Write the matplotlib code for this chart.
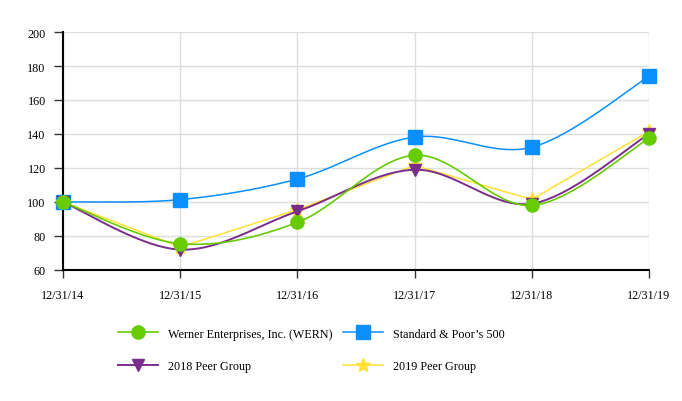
import numpy as np
import matplotlib
matplotlib.use("Agg")
import matplotlib.pyplot as plt
from matplotlib.lines import Line2D

dates = ["12/31/14", "12/31/15", "12/31/16", "12/31/17", "12/31/18", "12/31/19"]
wern = [100, 75.5, 88, 127.5, 98, 137.5]
sp500 = [100, 101.4, 113.5, 138.2, 132.2, 173.9]
peer2018 = [100, 72, 94.5, 119, 99, 140]
peer2019 = [100, 73.5, 95.5, 121.5, 101.5, 141.5]
yticks = [60, 80, 100, 120, 140, 160, 180, 200]

plt.rcParams['font.family'] = ['Liberation Serif', 'DejaVu Serif']

def smooth(xs, ys, n=40, t=0.5):
    xs = np.asarray(xs, float); ys = np.asarray(ys, float)
    P = np.column_stack([xs, ys])
    N = len(P)
    out = []
    for i in range(N - 1):
        p0 = P[i]; p3 = P[i + 1]
        pm = P[i - 1] if i > 0 else P[i]
        pp = P[i + 2] if i + 2 < N else P[i + 1]
        c1 = p0 + (p3 - pm) * t / 3
        c2 = p3 - (pp - p0) * t / 3
        s = np.linspace(0, 1, n)[:, None]
        seg = (1 - s) ** 3 * p0 + 3 * (1 - s) ** 2 * s * c1 + 3 * (1 - s) * s ** 2 * c2 + s ** 3 * p3
        out.append(seg if i == 0 else seg[1:])
    c = np.vstack(out)
    return c[:, 0], c[:, 1]

fig = plt.figure(figsize=(6.82, 4.02), dpi=100)
ax = fig.add_axes([63/682, 1-271/402, (649-63)/682, (271-33)/402])
x = np.arange(len(dates))

c_green = "#66CC00"
c_blue = "#0A8FFF"
c_purple = "#7B2D8E"
c_yellow = "#FFE033"

sx, sy = smooth(x, sp500)
ax.plot(sx, sy, color=c_blue, lw=1.1, zorder=3, clip_on=False)
ax.plot(x, sp500, ls='none', marker='s', ms=10, color=c_blue, zorder=3, clip_on=False)

ax.plot(x, peer2019, color=c_yellow, lw=1.1, marker='*', ms=10, zorder=4, clip_on=False)

sx, sy = smooth(x, peer2018)
ax.plot(sx, sy, color=c_purple, lw=1.4, zorder=5, clip_on=False)
ax.plot(x, peer2018, ls='none', marker='v', ms=9, color=c_purple, zorder=5, clip_on=False)

sx, sy = smooth(x, wern)
ax.plot(sx, sy, color=c_green, lw=1.2, zorder=6, clip_on=False)
ax.plot(x, wern, ls='none', marker='o', ms=9.5, color=c_green, zorder=6, clip_on=False)

ax.set_xlim(0, len(dates) - 1)
ax.set_ylim(60, 200)
ax.set_yticks(yticks)
ax.set_xticks(x)
ax.set_xticklabels(dates)
ax.grid(True, color="#dddddd", lw=1)
ax.set_axisbelow(True)
for s in ['top', 'right']:
    ax.spines[s].set_visible(False)
for s in ['left', 'bottom']:
    ax.spines[s].set_linewidth(1.5)
    ax.spines[s].set_color('black')
    ax.spines[s].set_zorder(2)
ax.tick_params(axis='y', length=6.5, width=1, pad=6, labelsize=8.7, color='#333333')
ax.tick_params(axis='x', length=5.5, width=1, pad=8, labelsize=8.7, color='#333333')

handles = [
    Line2D([], [], color=c_green, marker='o', ms=9.5, lw=1.2),
    Line2D([], [], color=c_purple, marker='v', ms=9, lw=1.4),
    Line2D([], [], color=c_blue, marker='s', ms=10, lw=1.1),
    Line2D([], [], color=c_yellow, marker='*', ms=10, lw=1.1),
]
labels = ["Werner Enterprises, Inc. (WERN)", "2018 Peer Group",
          "Standard & Poor\u2019s 500", "2019 Peer Group"]
fig.legend(handles, labels, ncol=2, loc='center', bbox_to_anchor=(0.4565, 0.127),
           frameon=False, fontsize=8.7, handlelength=3.3, handletextpad=0.8,
           columnspacing=0.9, labelspacing=1.7)

fig.savefig("out.png", dpi=100)
